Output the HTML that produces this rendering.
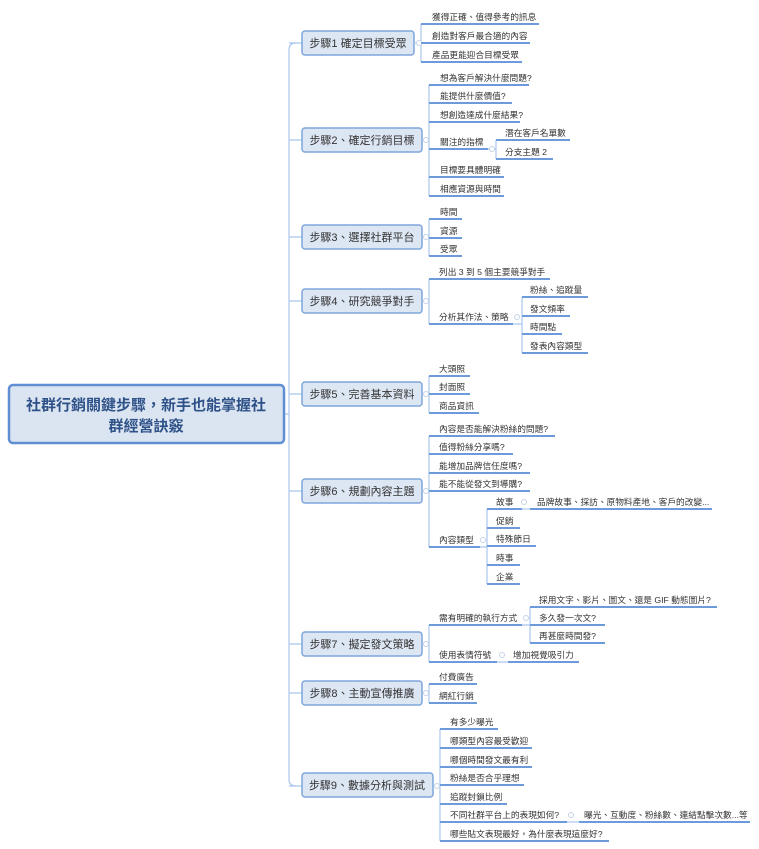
<!DOCTYPE html>
<html><head><meta charset="utf-8"><style>
html,body{margin:0;padding:0;background:#fff;width:759px;height:849px;overflow:hidden}
svg text{font-family:"Liberation Sans","Noto Sans CJK TC",sans-serif;fill:#333}
.l{font-size:8.7px}
.s{font-size:11px}
.u{stroke:#6b9bd9;stroke-width:2}
.c{stroke:#a9c6ee;stroke-width:1.2;fill:none}
.b{fill:#dde6f3;stroke:#7fa6dc;stroke-width:1.5}
.o{fill:#fff;stroke:#c5d3e8;stroke-width:1}
</style></head><body>
<svg width="759" height="849" viewBox="0 0 759 849" xmlns="http://www.w3.org/2000/svg">
<path class="c" d="M284 414 H289 M296 43 Q289 43 289 50 V779 Q289 786 296 786"/>
<path class="c" d="M289 43 H302 M289 140 H302 M289 237 H302 M289 301 H302 M289 394 H302 M289 491 H302 M289 644 H302 M289 693 H302 M289 786 H302"/>
<rect x="9" y="385" width="275" height="58" rx="4" fill="#dbe5f2" stroke="#5f8fd2" stroke-width="2.5"/>
<text x="146" y="410" text-anchor="middle" style="font-size:15px;font-weight:bold;fill:#2e5288">社群行銷關鍵步驟，新手也能掌握社</text>
<text x="146" y="431" text-anchor="middle" style="font-size:15px;font-weight:bold;fill:#2e5288">群經營訣竅</text>

<g class="s">
<rect class="b" x="302" y="31" width="112" height="24" rx="3"/><text x="358" y="47" text-anchor="middle">步驟1 確定目標受眾</text>
<rect class="b" x="302" y="128" width="120" height="24" rx="3"/><text x="362" y="144" text-anchor="middle">步驟2、確定行銷目標</text>
<rect class="b" x="302" y="225" width="120" height="24" rx="3"/><text x="362" y="241" text-anchor="middle">步驟3、選擇社群平台</text>
<rect class="b" x="302" y="289" width="120" height="24" rx="3"/><text x="362" y="305" text-anchor="middle">步驟4、研究競爭對手</text>
<rect class="b" x="302" y="382" width="120" height="24" rx="3"/><text x="362" y="398" text-anchor="middle">步驟5、完善基本資料</text>
<rect class="b" x="302" y="479" width="120" height="24" rx="3"/><text x="362" y="495" text-anchor="middle">步驟6、規劃內容主題</text>
<rect class="b" x="302" y="632" width="120" height="24" rx="3"/><text x="362" y="648" text-anchor="middle">步驟7、擬定發文策略</text>
<rect class="b" x="302" y="681" width="120" height="24" rx="3"/><text x="362" y="697" text-anchor="middle">步驟8、主動宣傳推廣</text>
<rect class="b" x="302" y="773" width="131" height="24" rx="3"/><text x="367" y="789" text-anchor="middle">步驟9、數據分析與測試</text>
</g>

<path class="c" d="M414 43 H421 M421 24 V62"/>
<path class="c" d="M422 140 H429 M429 85 V196"/>
<path class="c" d="M488 149 H496 M496 140 V159"/>
<path class="c" d="M422 237 H429 M429 219 V256"/>
<path class="c" d="M422 301 H429 M429 279 V324"/>
<path class="c" d="M513 324 H522 M522 297 V353"/>
<path class="c" d="M422 394 H429 M429 376 V413"/>
<path class="c" d="M422 491 H429 M429 436 V547"/>
<path class="c" d="M480 547 H487 M487 509 V584"/>
<path class="c" d="M422 644 H429 M429 625 V662"/>
<path class="c" d="M522 625 H530 M530 607 V643"/>
<path class="c" d="M497 662 H508"/>
<path class="c" d="M522 509 H530"/>
<path class="c" d="M422 693 H429 M429 684 V703"/>
<path class="c" d="M433 786 H440 M440 729 V841"/>
<path class="c" d="M567 822 H579"/>
<g>
<circle class="o" cx="419" cy="43" r="2.5"/><circle class="o" cx="426" cy="140" r="2.5"/><circle class="o" cx="492" cy="149" r="2.5"/>
<circle class="o" cx="426" cy="237" r="2.5"/><circle class="o" cx="426" cy="301" r="2.5"/><circle class="o" cx="517" cy="317" r="2.5"/>
<circle class="o" cx="426" cy="394" r="2.5"/><circle class="o" cx="426" cy="491" r="2.5"/><circle class="o" cx="483" cy="540" r="2.5"/>
<circle class="o" cx="524" cy="502" r="2.5"/><circle class="o" cx="426" cy="644" r="2.5"/><circle class="o" cx="526" cy="618" r="2.5"/>
<circle class="o" cx="502" cy="655" r="2.5"/><circle class="o" cx="426" cy="693" r="2.5"/><circle class="o" cx="437" cy="786" r="2.5"/>
<circle class="o" cx="571" cy="815" r="2.5"/>
</g>

<g class="l">
<text x="432" y="20">獲得正確、值得參考的訊息</text><line class="u" x1="421" y1="24" x2="539" y2="24"/>
<text x="432" y="39">創造對客戶最合適的內容</text><line class="u" x1="421" y1="43" x2="530" y2="43"/>
<text x="432" y="58">產品更能迎合目標受眾</text><line class="u" x1="421" y1="62" x2="522" y2="62"/>
<text x="440" y="81">想為客戶解決什麼問題?</text><line class="u" x1="429" y1="85" x2="529" y2="85"/>
<text x="440" y="99">能提供什麼價值?</text><line class="u" x1="429" y1="103" x2="512" y2="103"/>
<text x="440" y="118">想創造達成什麼結果?</text><line class="u" x1="429" y1="122" x2="520" y2="122"/>
<text x="440" y="145">關注的指標</text><line class="u" x1="429" y1="149" x2="488" y2="149"/>
<text x="440" y="173">目標要具體明確</text><line class="u" x1="429" y1="177" x2="504" y2="177"/>
<text x="440" y="192">相應資源與時間</text><line class="u" x1="429" y1="196" x2="504" y2="196"/>
<text x="505" y="136">潛在客戶名單數</text><line class="u" x1="496" y1="140" x2="570" y2="140"/>
<text x="505" y="155">分支主題 2</text><line class="u" x1="496" y1="159" x2="553" y2="159"/>
<text x="440" y="215">時間</text><line class="u" x1="429" y1="219" x2="462" y2="219"/>
<text x="440" y="234">資源</text><line class="u" x1="429" y1="238" x2="462" y2="238"/>
<text x="440" y="252">受眾</text><line class="u" x1="429" y1="256" x2="462" y2="256"/>
<text x="439" y="275">列出 3 到 5 個主要競爭對手</text><line class="u" x1="429" y1="279" x2="550" y2="279"/>
<text x="439" y="320">分析其作法、策略</text><line class="u" x1="429" y1="324" x2="513" y2="324"/>
<text x="530" y="293">粉絲、追蹤量</text><line class="u" x1="522" y1="297" x2="588" y2="297"/>
<text x="530" y="312">發文頻率</text><line class="u" x1="522" y1="316" x2="570" y2="316"/>
<text x="530" y="330">時間點</text><line class="u" x1="522" y1="334" x2="562" y2="334"/>
<text x="530" y="349">發表內容類型</text><line class="u" x1="522" y1="353" x2="588" y2="353"/>
<text x="439" y="372">大頭照</text><line class="u" x1="429" y1="376" x2="470" y2="376"/>
<text x="439" y="390">封面照</text><line class="u" x1="429" y1="394" x2="470" y2="394"/>
<text x="439" y="409">商品資訊</text><line class="u" x1="429" y1="413" x2="479" y2="413"/>
<text x="439" y="432">內容是否能解決粉絲的問題?</text><line class="u" x1="429" y1="436" x2="555" y2="436"/>
<text x="439" y="450">值得粉絲分享嗎?</text><line class="u" x1="429" y1="454" x2="513" y2="454"/>
<text x="439" y="469">能增加品牌信任度嗎?</text><line class="u" x1="429" y1="473" x2="530" y2="473"/>
<text x="439" y="487">能不能從發文到導購?</text><line class="u" x1="429" y1="491" x2="530" y2="491"/>
<text x="439" y="543">內容類型</text><line class="u" x1="429" y1="547" x2="480" y2="547"/>
<text x="496" y="505">故事</text><line class="u" x1="487" y1="509" x2="522" y2="509"/>
<text x="537" y="505">品牌故事、採訪、原物料產地、客戶的改變...</text><line class="u" x1="530" y1="509" x2="712" y2="509"/>
<text x="496" y="524">促銷</text><line class="u" x1="487" y1="528" x2="520" y2="528"/>
<text x="496" y="542">特殊節日</text><line class="u" x1="487" y1="546" x2="536" y2="546"/>
<text x="496" y="561">時事</text><line class="u" x1="487" y1="565" x2="520" y2="565"/>
<text x="496" y="580">企業</text><line class="u" x1="487" y1="584" x2="520" y2="584"/>
<text x="439" y="621">需有明確的執行方式</text><line class="u" x1="429" y1="625" x2="522" y2="625"/>
<text x="439" y="658">使用表情符號</text><line class="u" x1="429" y1="662" x2="497" y2="662"/>
<text x="539" y="603">採用文字、影片、圖文、還是 GIF 動態圖片?</text><line class="u" x1="530" y1="607" x2="717" y2="607"/>
<text x="539" y="621">多久發一次文?</text><line class="u" x1="530" y1="625" x2="605" y2="625"/>
<text x="539" y="639">再甚麼時間發?</text><line class="u" x1="530" y1="643" x2="605" y2="643"/>
<text x="513" y="658">增加視覺吸引力</text><line class="u" x1="508" y1="662" x2="579" y2="662"/>
<text x="439" y="680">付費廣告</text><line class="u" x1="429" y1="684" x2="477" y2="684"/>
<text x="439" y="699">網紅行銷</text><line class="u" x1="429" y1="703" x2="477" y2="703"/>
<text x="450" y="725">有多少曝光</text><line class="u" x1="440" y1="729" x2="498" y2="729"/>
<text x="450" y="744">哪類型內容最受歡迎</text><line class="u" x1="440" y1="748" x2="532" y2="748"/>
<text x="450" y="763">哪個時間發文最有利</text><line class="u" x1="440" y1="767" x2="532" y2="767"/>
<text x="450" y="781">粉絲是否合乎理想</text><line class="u" x1="440" y1="785" x2="524" y2="785"/>
<text x="450" y="800">追蹤封鎖比例</text><line class="u" x1="440" y1="804" x2="507" y2="804"/>
<text x="450" y="818">不同社群平台上的表現如何?</text><line class="u" x1="440" y1="822" x2="567" y2="822"/>
<text x="584" y="818">曝光、互動度、粉絲數、連結點擊次數...等</text><line class="u" x1="579" y1="822" x2="750" y2="822"/>
<text x="450" y="837">哪些貼文表現最好，為什麼表現這麼好?</text><line class="u" x1="440" y1="841" x2="609" y2="841"/>
</g>
</svg>
</body></html>
